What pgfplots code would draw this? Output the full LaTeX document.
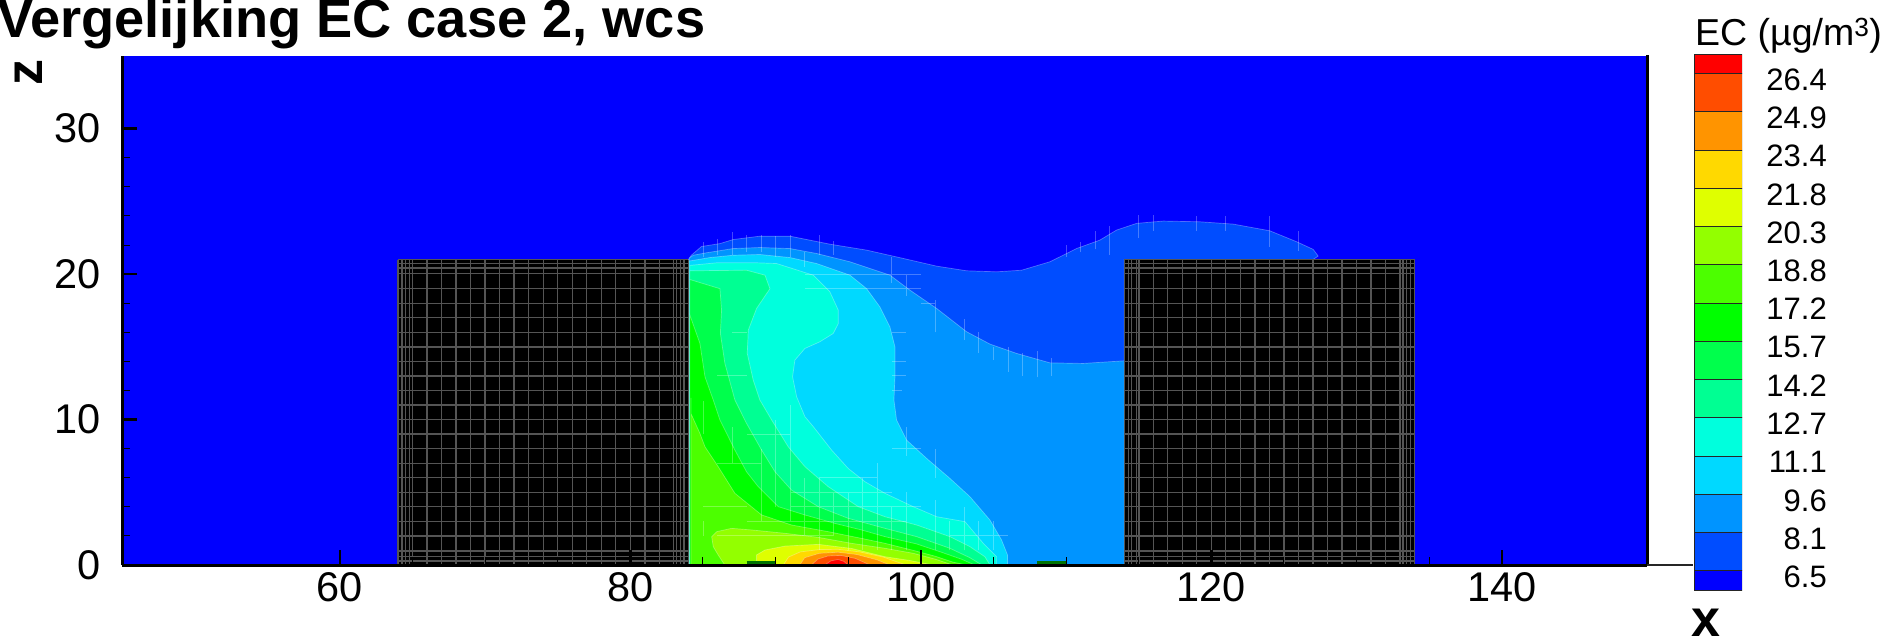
\documentclass[border=0pt]{standalone}
\usepackage{fontspec}
\setmainfont{Liberation Sans}
\usepackage{pgfplots}
\pgfplotsset{compat=1.18}

\definecolor{bg}{HTML}{0000FF}
\definecolor{c01}{HTML}{004DFF}
\definecolor{c02}{HTML}{0094FF}
\definecolor{c03}{HTML}{00D9FF}
\definecolor{c04}{HTML}{00FFDD}
\definecolor{c05}{HTML}{00FF93}
\definecolor{c06}{HTML}{00FF4C}
\definecolor{c07}{HTML}{00FF00}
\definecolor{c08}{HTML}{4CFF00}
\definecolor{c09}{HTML}{93FF00}
\definecolor{c10}{HTML}{DFFF00}
\definecolor{c11}{HTML}{FFD900}
\definecolor{c12}{HTML}{FF9400}
\definecolor{c13}{HTML}{FF4D00}
\definecolor{c14}{HTML}{FF0000}
\definecolor{meshgrey}{HTML}{555555}

\pgfplotsset{
  band/.style={fill=#1, draw=white, draw opacity=.3, line width=.7pt},
  bldg/.style={meshgrey, line width=1.3pt},
  flowmesh/.style={white, opacity=.27, line width=.9pt, unbounded coords=jump},
  legendband/.style={fill=#1, draw=black!85, line width=1pt},
}

\begin{document}
\begin{tikzpicture}[x=1pt,y=1pt]
\path[use as bounding box] (0,0) rectangle (1899,638);

\begin{axis}[
  at={(122pt,73pt)}, anchor=south west,
  scale only axis, width=1525pt, height=509pt,
  xmin=45, xmax=150, ymin=0, ymax=35,
  clip=false, axis on top,
  axis x line*=bottom, axis y line*=left,
  axis line style={line width=3pt},
  xtick={60,80,100,120,140}, ytick={0,10,20,30},
  minor x tick num=3, minor y tick num=4,
  tick align=inside,
  major tick length=15pt, minor tick length=8pt,
  major tick style={black, line width=2.5pt},
  minor tick style={black, line width=1pt},
  /pgf/number format/assume math mode=true,
  tick label style={font=\fontsize{41.5}{45}\selectfont, inner sep=0pt},
  xticklabel style={yshift=-7pt},
  yticklabel style={xshift=-21pt},
]
\addplot[fill=bg, draw=none] coordinates {(45,0)(150,0)(150,35)(45,35)} --cycle;

% contour levels, lowest first
\addplot[band=c01] coordinates {(84,21)(84.2,21.3)(84.9,21.9)(86.17,22.1)(87.09,22.38)(88.92,22.61)(90.99,22.61)(92.14,22.38)(93.74,22.06)(96.27,21.65)(98.79,21.08)(101.09,20.55)(103.15,20.23)(105.22,20.16)(106.94,20.27)(108.89,20.85)(110.72,21.76)(112.33,22.34)(113.48,23.03)(114.85,23.49)(116.69,23.65)(119.21,23.6)(121.51,23.44)(124.03,22.98)(125.87,22.23)(127.02,21.7)(127.36,21.24)(127,21)(114,21)(114,0)(84,0)} --cycle;
\addplot[band=c02] coordinates {(84.05,21.1)(84.33,21.3)(85.25,21.47)(87.09,21.76)(88.92,21.83)(90.99,21.76)(92.82,21.42)(95.12,20.85)(97.87,19.93)(99.25,18.9)(101.09,17.64)(103.15,16.04)(104.76,15.19)(106.59,14.55)(108.89,13.9)(111.18,13.86)(114,14.04)(114,0)(84.05,0)} --cycle;
\addplot[band=c03] coordinates {(84.05,20.9)(85.48,21.14)(87.09,21.3)(88.92,21.35)(90.99,21.14)(92.82,20.73)(95.12,19.93)(96.27,19)(97.18,17.75)(97.87,16.38)(98.22,15)(98.22,12.94)(98.15,11.34)(98.33,9.97)(99.02,8.59)(100.4,7.33)(102,5.96)(103.38,4.7)(104.76,3.09)(105.56,1.72)(105.97,0.69)(105.97,0)(84.05,0)} --cycle;
\addplot[band=c04] coordinates {(84.1,20.6)(85.94,20.78)(88.69,20.78)(90.07,20.73)(92.59,19.93)(93.74,18.78)(94.32,17.52)(94.32,16.61)(93.97,15.92)(93.05,15.35)(92.02,14.89)(91.33,14.09)(91.17,12.94)(91.45,11.57)(92.02,10.2)(92.6,9.51)(93.86,7.9)(95,6.64)(96.15,5.73)(97.53,4.93)(99.48,4.01)(101.09,3.32)(103.04,2.98)(104.3,1.49)(105.22,0.57)(105.22,0)(84.1,0)} --cycle;
\addplot[band=c05] coordinates {(84.1,20.23)(88,20.27)(89.27,19.93)(89.61,19)(88.69,17.64)(88.12,16.15)(88.05,14.55)(88.46,12.71)(88.92,11.34)(89.73,9.97)(90.87,8.13)(92.02,6.76)(93.63,5.38)(95.69,4.01)(97.53,3.32)(99.71,2.75)(102,1.95)(103.38,1.26)(104.41,0.57)(104.76,0)(84.1,0)} --cycle;
\addplot[band=c06] coordinates {(84.1,19.63)(86.17,19)(86.28,17.52)(86.2,15.92)(86.51,13.86)(87.2,11.34)(88,9.74)(89.04,7.9)(89.96,6.41)(91.1,5.15)(92.94,4.01)(95,3.21)(97.53,2.52)(99.71,1.95)(102,1.15)(103.38,0.5)(104.2,0)(84.1,0)} --cycle;
\addplot[band=c07] coordinates {(84.1,17.18)(84.79,15.24)(85.14,12.94)(85.71,11.34)(86.17,9.97)(87.2,7.9)(88,6.41)(88.81,5.38)(90.19,4.01)(92.02,3.44)(94.09,2.86)(95.92,2.41)(97.53,1.95)(99.71,1.45)(101.5,0.85)(102.8,0.4)(103.7,0)(84.1,0)} --cycle;
\addplot[band=c08] coordinates {(84.17,11.5)(84.17,10.42)(84.79,9.05)(85.14,8.13)(86.05,6.76)(87.2,4.93)(89.04,3.44)(91.1,2.75)(93.63,2.29)(95.92,1.83)(97.53,1.49)(99.5,1)(101,0.6)(102.2,0.2)(103.15,0)(84.17,0)} --cycle;
\addplot[band=c09] coordinates {(86.5,0)(86.05,0.69)(85.71,1.26)(85.6,1.95)(85.94,2.29)(86.97,2.52)(88.35,2.41)(90.64,2.18)(92.94,1.9)(95.23,1.49)(97.53,1.15)(99.5,0.8)(101,0.4)(102.2,0)} --cycle;
\addplot[band=c10] coordinates {(88.69,0)(88.69,0.69)(89.27,1.03)(90.64,1.3)(92.94,1.42)(95.23,1.14)(97.53,0.57)(99.3,0.3)(100.85,0)} --cycle;
\addplot[band=c11] coordinates {(90.53,0)(90.9,0.55)(91.7,0.9)(93,1.06)(94.3,1.08)(95.8,0.9)(97.4,0.55)(98.4,0.2)(99,0)} --cycle;
\addplot[band=c12] coordinates {(91.67,0)(92,0.5)(93,0.8)(94.3,0.88)(95.6,0.72)(97,0.35)(97.87,0)} --cycle;
\addplot[band=c13] coordinates {(92.48,0)(92.9,0.4)(93.6,0.62)(94.5,0.66)(95.5,0.45)(96.5,0)} --cycle;
\addplot[band=c14] coordinates {(93.4,0)(93.8,0.28)(94.3,0.38)(94.7,0.25)(95,0)} --cycle;

% cell edges showing through the contour field
\addplot[flowmesh] coordinates {
 (85,21.2)(85,22.2)(nan,nan)(86,21.3)(86,22.4)(nan,nan)(87,21.3)(87,22.9)(nan,nan)(88,21.5)(88,22.7)(nan,nan)
 (89,21.5)(89,22.7)(nan,nan)(90,21.2)(90,22.6)(nan,nan)(91,21.2)(91,22.7)(nan,nan)(92,20.5)(92,21.5)(nan,nan)
 (93,21.3)(93,22.7)(nan,nan)(94,21.3)(94,22.3)(nan,nan)(98,19.4)(98,21.2)(nan,nan)(99,18.5)(99,20)(nan,nan)
 (101,16)(101,18.2)(nan,nan)(103,15.5)(103,16.9)(nan,nan)(104,14.6)(104,16)(nan,nan)(105,14.1)(105,15)(nan,nan)
 (106,13.3)(106,15)(nan,nan)(107,13)(107,14.6)(nan,nan)(108,12.9)(108,14.7)(nan,nan)(109,13)(109,14.2)(nan,nan)
 (110,21.2)(110,22)(nan,nan)(111,21.5)(111,22.2)(nan,nan)(112,21.7)(112,23)(nan,nan)(113,21.3)(113,23.3)(nan,nan)
 (115,22.5)(115,24.1)(nan,nan)(116,23)(116,24.1)(nan,nan)(119,23)(119,24)(nan,nan)(121,23)(121,24)(nan,nan)
 (124,21.9)(124,24)(nan,nan)(126,21.6)(126,23)(nan,nan)
 (92,20)(100,20)(nan,nan)(92,19)(100,19)(nan,nan)(100,18)(101,18)(nan,nan)(87,16)(88,16)(nan,nan)
 (98,16)(99,16)(nan,nan)(98,14)(99,14)(nan,nan)(98,13)(99,13)(nan,nan)(86,13)(88,13)(nan,nan)(98,12)(98.7,12)(nan,nan)
 (85,9)(85,11.3)(nan,nan)(87,7)(87,9.5)(nan,nan)(86,7)(89,7)(nan,nan)(89,3)(89,8)(nan,nan)(88,9)(91,9)(nan,nan)
 (90,4)(90,10)(nan,nan)(91,3)(91,11)(nan,nan)(92,2)(92,6)(nan,nan)(93,1)(93,6)(nan,nan)(94,2)(94,5)(nan,nan)
 (95,1)(95,5)(nan,nan)(96,1)(96,6)(nan,nan)(97,1)(97,7)(nan,nan)(98,1)(98,4)(nan,nan)(99,1)(99,5)(nan,nan)(99,7.5)(99,9.5)(nan,nan)
 (101,1)(101,4.5)(nan,nan)(101,6)(101,8)(nan,nan)(102,1)(102,3)(nan,nan)(103,1)(103,4)(nan,nan)(104,1)(104,3)(nan,nan)(105,1)(105,3)(nan,nan)
 (86,2)(94,2)(nan,nan)(88,3)(99,3)(nan,nan)(91,4)(100,4)(nan,nan)(91,5)(98,5)(nan,nan)(85,4)(88,4)(nan,nan)(85,2)(85,3)(nan,nan)
 (93,6)(97,6)(nan,nan)(98,8)(100,8)(nan,nan)(102,2)(106,2)
};

% thin dark patches at the ground
\addplot[draw=green!45!black, line width=3pt] coordinates {(88,0.17)(90,0.17)};
\addplot[draw=green!45!black, line width=3pt] coordinates {(108,0.17)(110,0.17)};

% buildings and their meshes
\addplot[fill=black, draw=none] coordinates {(64,0)(84,0)(84,21)(64,21)} --cycle;
\addplot[fill=black, draw=none] coordinates {(114,0)(134,0)(134,21)(114,21)} --cycle;
\pgfplotsinvokeforeach{64,64.28,64.5,64.8,65,66,67,68,69,70,71,72,73,74,75,76,77,78,79,80,81,82,82.95,83.2,83.45,83.7,84,
  114,114.3,114.53,114.83,115.03,116,117,118,119,120,121,122,123,124,125,126,127,128,129,130,131,132,133,133.2,133.45,133.7,134}{
  \addplot[bldg] coordinates {(#1,0)(#1,21)};
}
\pgfplotsinvokeforeach{0.27,0.57,0.96,2,3,4,5,6,7,8,9,10,11,12,13,14,15,16,17,18,19,20.04,20.43,20.73,21}{
  \addplot[bldg] coordinates {(64,#1)(84,#1)};
  \addplot[bldg] coordinates {(114,#1)(134,#1)};
}
\draw[black, line width=3pt] (axis cs:150,0) -- (axis cs:150,35.1);
\draw[black!85, line width=1.7pt] (axis cs:150,0) -- (axis cs:153.2,0);
\end{axis}

% colour key
\begin{axis}[
  at={(1694pt,48pt)}, anchor=south west,
  scale only axis, width=48pt, height=535.5pt,
  xmin=0, xmax=1, ymin=5.78, ymax=27.18,
  xtick=\empty,
  ytick={6.54,8.069,9.598,11.127,12.656,14.185,15.714,17.243,18.772,20.301,21.83,23.359,24.888,26.417},
  ytick pos=right,
  axis line style={draw=none},
  major tick length=0pt,
  /pgf/number format/assume math mode=true,
  /pgf/number format/fixed, /pgf/number format/fixed zerofill, /pgf/number format/precision=1,
  yticklabel style={font=\fontsize{31}{34}\selectfont, anchor=east, inner sep=0pt, xshift=85pt, yshift=-6pt},
]
\addplot[legendband=bg]  coordinates {(0,5.78)(1,5.78)(1,6.54)(0,6.54)} --cycle;
\addplot[legendband=c01] coordinates {(0,6.54)(1,6.54)(1,8.069)(0,8.069)} --cycle;
\addplot[legendband=c02] coordinates {(0,8.069)(1,8.069)(1,9.598)(0,9.598)} --cycle;
\addplot[legendband=c03] coordinates {(0,9.598)(1,9.598)(1,11.127)(0,11.127)} --cycle;
\addplot[legendband=c04] coordinates {(0,11.127)(1,11.127)(1,12.656)(0,12.656)} --cycle;
\addplot[legendband=c05] coordinates {(0,12.656)(1,12.656)(1,14.185)(0,14.185)} --cycle;
\addplot[legendband=c06] coordinates {(0,14.185)(1,14.185)(1,15.714)(0,15.714)} --cycle;
\addplot[legendband=c07] coordinates {(0,15.714)(1,15.714)(1,17.243)(0,17.243)} --cycle;
\addplot[legendband=c08] coordinates {(0,17.243)(1,17.243)(1,18.772)(0,18.772)} --cycle;
\addplot[legendband=c09] coordinates {(0,18.772)(1,18.772)(1,20.301)(0,20.301)} --cycle;
\addplot[legendband=c10] coordinates {(0,20.301)(1,20.301)(1,21.83)(0,21.83)} --cycle;
\addplot[legendband=c11] coordinates {(0,21.83)(1,21.83)(1,23.359)(0,23.359)} --cycle;
\addplot[legendband=c12] coordinates {(0,23.359)(1,23.359)(1,24.888)(0,24.888)} --cycle;
\addplot[legendband=c13] coordinates {(0,24.888)(1,24.888)(1,26.417)(0,26.417)} --cycle;
\addplot[legendband=c14] coordinates {(0,26.417)(1,26.417)(1,27.18)(0,27.18)} --cycle;
\end{axis}

\node[anchor=base west, inner sep=0pt, font=\fontsize{54.2}{57}\selectfont\bfseries] at (-3,600) {Vergelijking EC case 2, wcs};
\node[anchor=base west, inner sep=0pt, font=\fontsize{37.5}{40}\selectfont] at (1695,592) {EC (µg/m\textsuperscript{3})};
\node[rotate=90, inner sep=0pt, font=\fontsize{52}{56}\selectfont\bfseries] at (29,565) {z};
\node[inner sep=0pt, font=\fontsize{52}{56}\selectfont\bfseries] at (1706,15) {x};
\end{tikzpicture}
\end{document}
